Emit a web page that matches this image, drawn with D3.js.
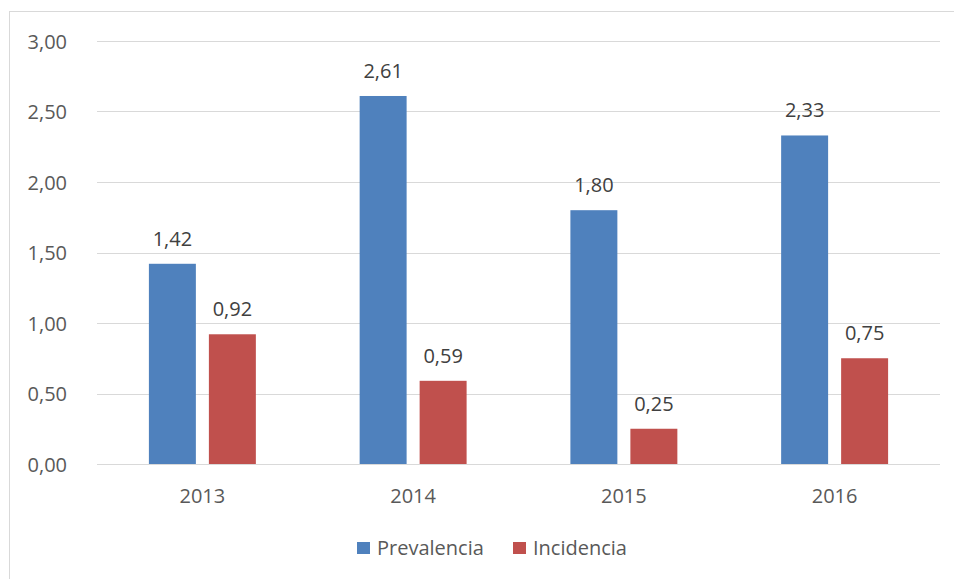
<!DOCTYPE html>
<html>
<head>
<meta charset="utf-8">
<script src="https://cdn.jsdelivr.net/npm/d3@7"></script>
<style>
  html, body { margin: 0; padding: 0; background: #fff; }
  svg { display: block; font-family: "Open Sans", "Noto Sans", sans-serif; }
</style>
</head>
<body>
<svg id="chart" width="954" height="579"></svg>
<script>
const years = ["2013", "2014", "2015", "2016"];
const seriesNames = ["Prevalencia", "Incidencia"];
const prevalencia = [1.42, 2.61, 1.80, 2.33];
const incidencia = [0.92, 0.59, 0.25, 0.75];
const yTicks = [0, 0.5, 1, 1.5, 2, 2.5, 3];
const colors = ["#4F81BD", "#C0504D"];

const svg = d3.select("#chart");
const W = 954, H = 579;
const margin = { left: 97, right: 14, top: 41, bottom: 115 };
const FS = 20;
const fmt = v => d3.format(".2f")(v).replace(".", ",");

// outer chart frame
svg.append("rect")
  .attr("x", 9.5).attr("y", 11.5)
  .attr("width", W + 20).attr("height", H + 20)
  .attr("fill", "#fff").attr("stroke", "#D9D9D9").attr("stroke-width", 1);

const x0 = d3.scaleBand().domain(years)
  .range([margin.left, W - margin.right]).paddingInner(0).paddingOuter(0);
const x1 = d3.scaleBand().domain(seriesNames)
  .range([0, x0.bandwidth()]).paddingInner(0.217).paddingOuter(0.865);
const y = d3.scaleLinear().domain([0, 3]).range([H - margin.bottom, margin.top]);

// gridlines
svg.append("g").selectAll("line").data(yTicks).join("line")
  .attr("x1", margin.left).attr("x2", W - margin.right)
  .attr("y1", d => Math.round(y(d)) + 0.5).attr("y2", d => Math.round(y(d)) + 0.5)
  .attr("stroke", "#D9D9D9").attr("stroke-width", 1);

// y axis labels
const yAxis = d3.axisLeft(y).tickValues(yTicks).tickFormat(fmt).tickSize(0).tickPadding(0);
const gy = svg.append("g").attr("transform", `translate(67,1)`).call(yAxis);
gy.select(".domain").remove();
gy.selectAll("text").attr("font-size", FS).attr("fill", "#595959")
  .attr("font-family", '"Open Sans", "Noto Sans", sans-serif');

// x axis labels
const xAxis = d3.axisBottom(x0).tickSize(0).tickPadding(0);
const gx = svg.append("g").attr("transform", `translate(0,${y(0)})`).call(xAxis);
gx.select(".domain").remove();
gx.selectAll("text").attr("dy", null).attr("y", 39).attr("font-size", FS).attr("fill", "#595959")
  .attr("font-family", '"Open Sans", "Noto Sans", sans-serif');

const data = years.map((yr, i) => ({
  year: yr,
  values: [
    { key: seriesNames[0], value: prevalencia[i], color: colors[0] },
    { key: seriesNames[1], value: incidencia[i], color: colors[1] }
  ]
}));

const groups = svg.append("g").selectAll("g").data(data).join("g")
  .attr("transform", d => `translate(${x0(d.year)},0)`);

groups.selectAll("rect").data(d => d.values).join("rect")
  .attr("x", d => x1(d.key))
  .attr("width", x1.bandwidth())
  .attr("y", d => y(d.value))
  .attr("height", d => y(0) - y(d.value))
  .attr("fill", d => d.color);

groups.selectAll("text").data(d => d.values).join("text")
  .attr("x", d => x1(d.key) + x1.bandwidth() / 2)
  .attr("y", d => y(d.value) - 18)
  .attr("text-anchor", "middle")
  .attr("font-size", FS).attr("fill", "#404040")
  .text(d => fmt(d.value));

// legend
const legend = svg.append("g").attr("transform", "translate(357,542)");
const items = [{ name: seriesNames[0], color: colors[0], x: 0 }, { name: seriesNames[1], color: colors[1], x: 156 }];
const li = legend.selectAll("g").data(items).join("g").attr("transform", d => `translate(${d.x},0)`);
li.append("rect").attr("width", 13).attr("height", 12).attr("fill", d => d.color);
li.append("text").attr("x", 20).attr("y", 13).attr("font-size", FS).attr("fill", "#595959").text(d => d.name);
</script>
</body>
</html>
